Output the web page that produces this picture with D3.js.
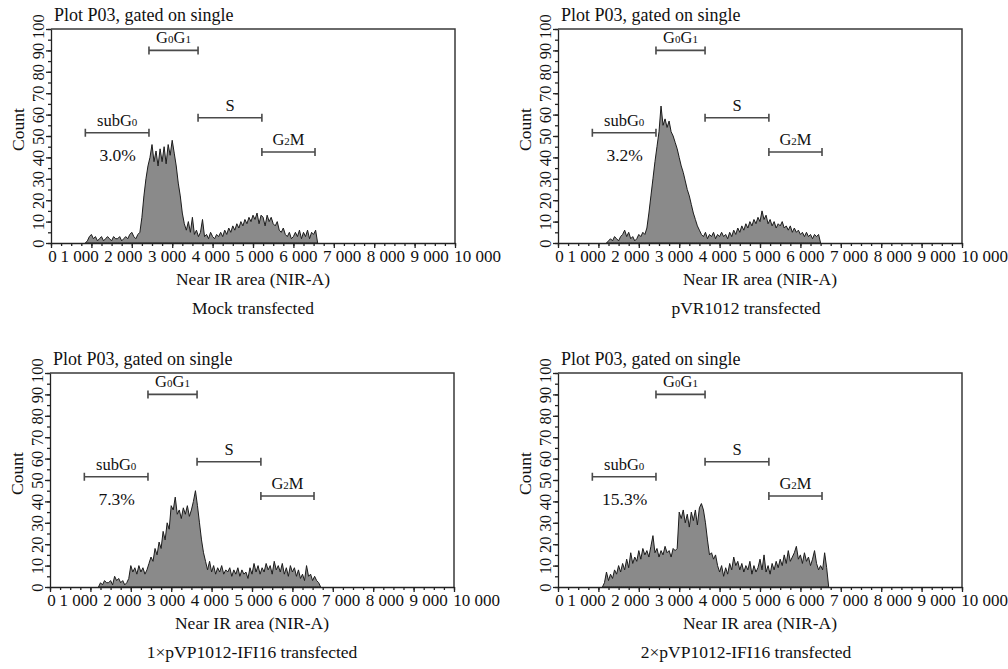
<!DOCTYPE html>
<html>
<head>
<meta charset="utf-8">
<script src="https://cdn.jsdelivr.net/npm/d3@7"></script>
<style>
  body { margin: 0; background: #fff; }
  svg text { font-family: "Liberation Serif", "Times New Roman", serif; fill: #111; }
</style>
</head>
<body>
<svg id="chart" width="1008" height="669"></svg>
<script>
// axis ticks
const xMajor = [0, 1000, 2000, 3000, 4000, 5000, 6000, 7000, 8000, 9000, 10000];
const xTickLabels = ['0', '1 000', '2 000', '3 000', '4 000', '5 000', '6 000', '7 000', '8 000', '9 000', '10 000'];
const yTicks = [0, 10, 20, 30, 40, 50, 60, 70, 80, 90, 100];

// gates (same markers in every panel)
const gateNames = ['subG0', 'G0G1', 'S', 'G2M'];
const gateFrom = [850, 2425, 3640, 5220];
const gateTo = [2425, 3640, 5220, 6535];
const gateLevel = [51.5, 90, 58.5, 42.5];

const captions = ['Mock transfected', 'pVR1012 transfected', '1\u00d7pVP1012-IFI16 transfected', '2\u00d7pVP1012-IFI16 transfected'];
const subG0Percent = ['3.0%', '3.2%', '7.3%', '15.3%'];

// histogram counts, 50-unit bins
const binWidth = 50;
const binStart = [850, 1200, 1200, 1100];
const mockCounts = [0, 1, 3, 4, 2, 3, 1, 2, 3, 1, 2, 3, 2, 1, 3, 2, 2, 3, 1, 2, 3, 2, 4, 5, 3, 2, 4,
  5, 12, 22, 30, 36, 40, 46, 38, 43, 36, 44, 38, 45, 37, 46, 41, 48, 42, 36, 28, 22, 14, 9, 6, 10, 5, 12, 4, 6, 3, 5, 11, 3, 4, 2, 5,
  3, 2, 4, 3, 5, 3, 6, 4, 7, 5, 8, 6, 9, 7, 10, 8, 11, 9, 12, 10, 13, 11, 14, 9, 13, 12, 8, 13, 10, 12, 9, 8, 10, 6, 5, 7, 4, 3, 5, 2,
  3, 5, 3, 6, 2, 5, 3, 6, 2, 5, 4, 6, 0];
const pvrCounts = [0, 1, 2, 1, 3, 2, 1, 3, 4, 6, 3, 5, 2, 3, 1, 2, 4, 3, 5, 4,
  7, 14, 22, 30, 38, 45, 52, 64, 55, 58, 54, 57, 52, 50, 47, 44, 40, 36, 33, 29, 25, 22, 18, 14, 11, 8, 6, 4,
  3, 5, 2, 4, 3, 5, 2, 4, 3, 5, 3, 4, 2, 5, 3, 6, 4, 7, 5, 8, 6, 9, 7, 10, 8, 11, 9, 12, 10, 15, 11, 13,
  9, 11, 8, 10, 7, 9, 8, 10, 7, 8, 6, 8, 5, 7, 5, 6, 4, 5, 3, 5, 3, 4, 2, 4, 3, 4, 0];
const ifi1Counts = [0, 2, 1, 3, 2, 2, 3, 1, 5, 3, 4, 2, 3, 1, 2, 4, 10, 7, 9, 6, 10, 7, 9, 6, 8, 11,
  14, 12, 18, 15, 21, 18, 26, 22, 30, 27, 38, 36, 42, 34, 36, 32, 37, 34, 38, 33, 36, 40, 45, 38, 30, 22, 16, 12, 8, 12,
  7, 10, 6, 9, 7, 10, 6, 8, 7, 9, 5, 8, 6, 9, 5, 8, 6, 7, 4, 9, 6, 11, 7, 10, 6, 9, 7, 11, 8, 10, 6, 12,
  8, 10, 7, 11, 6, 9, 5, 10, 7, 9, 5, 8, 4, 6, 3, 10, 5, 6, 3, 5, 3, 2, 0];
const ifi2Counts = [0, 2, 7, 3, 6, 4, 8, 6, 10, 7, 11, 8, 13, 9, 16, 11, 14, 12, 17, 13, 18, 15, 17, 14, 19, 24,
  16, 18, 14, 17, 15, 19, 16, 17, 14, 18, 17, 18, 35, 32, 36, 30, 34, 28, 35, 31, 36, 29, 37, 39, 36, 30, 22, 15,
  16, 13, 15, 10, 7, 10, 5, 9, 6, 11, 8, 14, 10, 12, 8, 11, 7, 10, 8, 12, 6, 10, 7, 9, 13, 8, 15, 7, 10, 6,
  11, 8, 12, 9, 13, 10, 15, 11, 17, 12, 14, 16, 19, 13, 15, 11, 16, 12, 14, 10, 13, 17, 11, 8, 10, 8, 16, 9, 0];
const allCounts = [mockCounts, pvrCounts, ifi1Counts, ifi2Counts];

// layout
const panelLeft = [51, 558, 50, 558];
const panelTop = [29, 29, 373, 373];
const captionDx = [0, -14, 0, -14];
const W = 404, H = 214;

const svg = d3.select('#chart');

allCounts.forEach(function(counts, p) {
  const g = svg.append('g').attr('transform', 'translate(' + panelLeft[p] + ',' + panelTop[p] + ')');

  const x = d3.scaleLinear().domain([0, 10000]).range([0, W]);
  const y = d3.scaleLinear().domain([0, 100]).range([H, 0]);
  // tick labels run together like one line of text, so they don't sit under their ticks
  const xLab = d3.scaleLinear().domain([0, 1000, 9000, 10000]).range([1, 28, 378, 426]);

  // histogram
  const area = d3.area()
    .x(function(d, i) { return x(binStart[p] + i * binWidth); })
    .y0(y(0))
    .y1(function(d) { return y(d); });
  g.append('path').datum(counts)
    .attr('d', area)
    .attr('fill', '#8a8a8a')
    .attr('stroke', '#1c1c1c')
    .attr('stroke-width', 1)
    .attr('stroke-linejoin', 'round');

  // frame top + right
  g.append('path')
    .attr('d', 'M0,0H' + W + 'V' + H)
    .attr('fill', 'none').attr('stroke', '#3a3a3a').attr('stroke-width', 1.5);

  // x axis: minor then major
  g.append('g').attr('transform', 'translate(0,' + H + ')')
    .call(d3.axisBottom(x).tickValues(d3.range(0, 10001, 250)).tickSize(3).tickSizeOuter(0).tickFormat(''))
    .call(function(a) { a.selectAll('line,path').attr('stroke', '#222').attr('stroke-width', 1.3); });
  const xa = g.append('g').attr('transform', 'translate(0,' + H + ')')
    .call(d3.axisBottom(x).tickValues(xMajor).tickSize(5).tickSizeOuter(0)
      .tickFormat(function(d, i) { return xTickLabels[i]; }));
  xa.select('.domain').remove();
  xa.selectAll('line').attr('stroke', '#222').attr('stroke-width', 1.3);
  xa.selectAll('text')
    .attr('x', function(d) { return xLab(d) - x(d); })
    .attr('y', 7)
    .style('font-size', '17px')
    .style('font-family', '"Liberation Serif", serif')
    .attr('fill', '#111');

  // y axis
  g.append('g')
    .call(d3.axisLeft(y).tickValues(d3.range(0, 101, 5)).tickSize(3).tickSizeOuter(0).tickFormat(''))
    .call(function(a) { a.selectAll('line,path').attr('stroke', '#222').attr('stroke-width', 1.3); });
  const ya = g.append('g')
    .call(d3.axisLeft(y).tickValues(yTicks).tickSize(5).tickSizeOuter(0));
  ya.select('.domain').remove();
  ya.selectAll('line').attr('stroke', '#222').attr('stroke-width', 1.3);
  ya.selectAll('text')
    .attr('transform', 'rotate(-90)')
    .attr('x', function(d) { return d === 100 ? 3 : 0; })
    .attr('y', -7).attr('dy', 0)
    .style('text-anchor', 'middle')
    .style('font-size', '16.5px')
    .style('font-family', '"Liberation Serif", serif')
    .attr('fill', '#111');

  g.append('text')
    .attr('transform', 'translate(-27,' + y(53) + ') rotate(-90)')
    .attr('text-anchor', 'middle')
    .style('font-size', '17.5px')
    .text('Count');

  // title
  g.append('text').attr('x', 3).attr('y', -8)
    .style('font-size', '18px')
    .text('Plot P03, gated on single');

  // gates
  gateNames.forEach(function(name, k) {
    const gy = y(gateLevel[k]);
    const x0 = x(gateFrom[k]), x1 = x(gateTo[k]);
    g.append('path')
      .attr('d', 'M' + x0 + ',' + gy + 'H' + x1 + 'M' + x0 + ',' + (gy - 4) + 'V' + (gy + 4) + 'M' + x1 + ',' + (gy - 4) + 'V' + (gy + 4))
      .attr('stroke', '#4a4a4a').attr('stroke-width', 1.6).attr('fill', 'none');
    const t = g.append('text')
      .attr('x', (x0 + x1) / 2).attr('y', gy - 7)
      .attr('text-anchor', 'middle')
      .style('font-size', '16.5px');
    // digits after G become small subscripts
    name.split(/(\d)/).filter(function(s) { return s.length; }).forEach(function(s) {
      t.append('tspan').text(s).style('font-size', /\d/.test(s) ? '11px' : '16.5px');
    });
  });

  g.append('text')
    .attr('x', x(1650)).attr('y', y(38.5))
    .attr('text-anchor', 'middle')
    .style('font-size', '17.5px')
    .text(subG0Percent[p]);

  // axis title + caption
  g.append('text')
    .attr('x', W / 2).attr('y', H + 42)
    .attr('text-anchor', 'middle')
    .style('font-size', '17.5px')
    .text('Near IR area (NIR-A)');
  g.append('text')
    .attr('x', W / 2 + captionDx[p]).attr('y', H + 71)
    .attr('text-anchor', 'middle')
    .style('font-size', '17.5px')
    .text(captions[p]);
});
</script>
</body>
</html>
